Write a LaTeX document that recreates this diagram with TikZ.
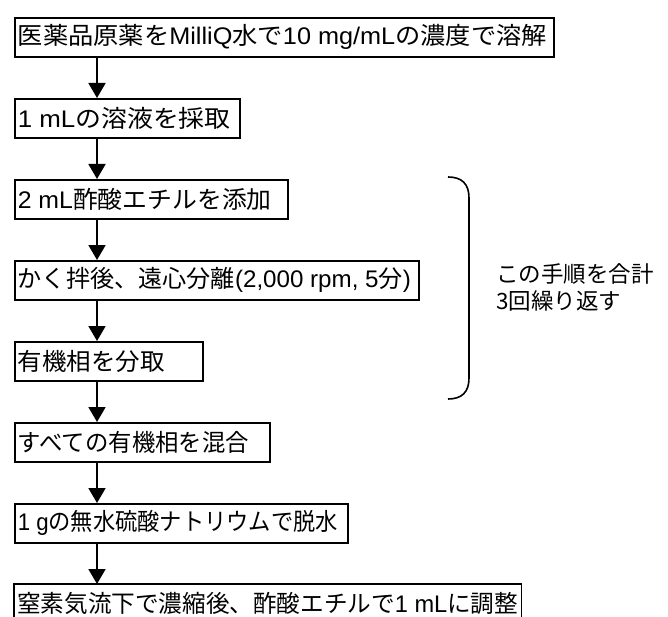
\documentclass[tikz,border=0pt]{standalone}
\usepackage{graphicx}
\usepackage{fontspec}
\setmainfont{Liberation Sans}
\newfontfamily\jp{Noto Sans CJK JP}
\newcommand\J[1]{{\jp #1}}
\newcommand\fitline[3]{\makebox[#1bp][l]{\hspace{3bp}\resizebox{#2bp}{\height}{#3}}}
\usetikzlibrary{arrows.meta}
\begin{document}
\begin{tikzpicture}[x=1bp,y=-1bp,
  font=\fontsize{24bp}{28bp}\selectfont,
  stepbox/.style={draw, line width=1.6bp, rectangle, anchor=north west,
    minimum height=39bp, inner sep=0pt},
  openbox/.style={rectangle, anchor=north west, minimum height=39bp, inner sep=0pt},
  edge/.style={line width=1.6bp},
  arr/.style={line width=1.8bp, -{Triangle[width=17bp,length=15bp]}}]
\useasboundingbox (0,0) rectangle (668,617);
\clip (0,0) rectangle (668,617);
\node[stepbox] (b1) at (14,17) {\fitline{539}{529}{\J{医薬品原薬を}MilliQ\J{水で}10 mg/mL\J{の濃度で溶解}}};
\node[stepbox] (b2) at (14,98) {\fitline{225}{213}{1 mL\J{の溶液を採取}}};
\node[stepbox] (b3) at (14,179) {\fitline{273}{254}{2 mL\J{酢酸エチルを添加}}};
\node[stepbox] (b4) at (14,260) {\fitline{404}{393}{\J{かく拌後、遠心分離}(2,000 rpm, 5\J{分})}};
\node[stepbox] (b5) at (14,341) {\fitline{188}{147}{\J{有機相を分取}}};
\node[stepbox] (b6) at (14,422) {\fitline{255}{231}{\J{すべての有機相を混合}}};
\node[stepbox] (b7) at (14,503) {\fitline{333}{320}{1 g\J{の無水硫酸ナトリウムで脱水}}};
\node[openbox] (b8) at (14,584) {\fitline{507}{501}{\J{窒素気流下で濃縮後、酢酸エチルで}1 mL\J{に調整}}};
\draw[edge] (b8.south west) -- (b8.north west) -- (b8.north east) -- (b8.south east);
\foreach \a/\b in {b1/b2,b2/b3,b3/b4,b4/b5,b5/b6,b6/b7,b7/b8}
  \draw[arr] ([xshift=83bp]\a.south west) -- ([xshift=83bp]\b.north west);
\coordinate (brtop) at (448,177);
\coordinate (brbot) at (448,399);
\draw[edge] (brtop) .. controls (462,177) and (469,184) .. (469,198)
  -- (469,378) .. controls (469,392) and (462,399) .. (brbot);
\node[anchor=west, align=left, inner sep=0pt, font=\fontsize{22.5bp}{27bp}\selectfont\jp] (lab) at (496,287) {この手順を合計\\3回繰り返す};
\end{tikzpicture}
\end{document}
